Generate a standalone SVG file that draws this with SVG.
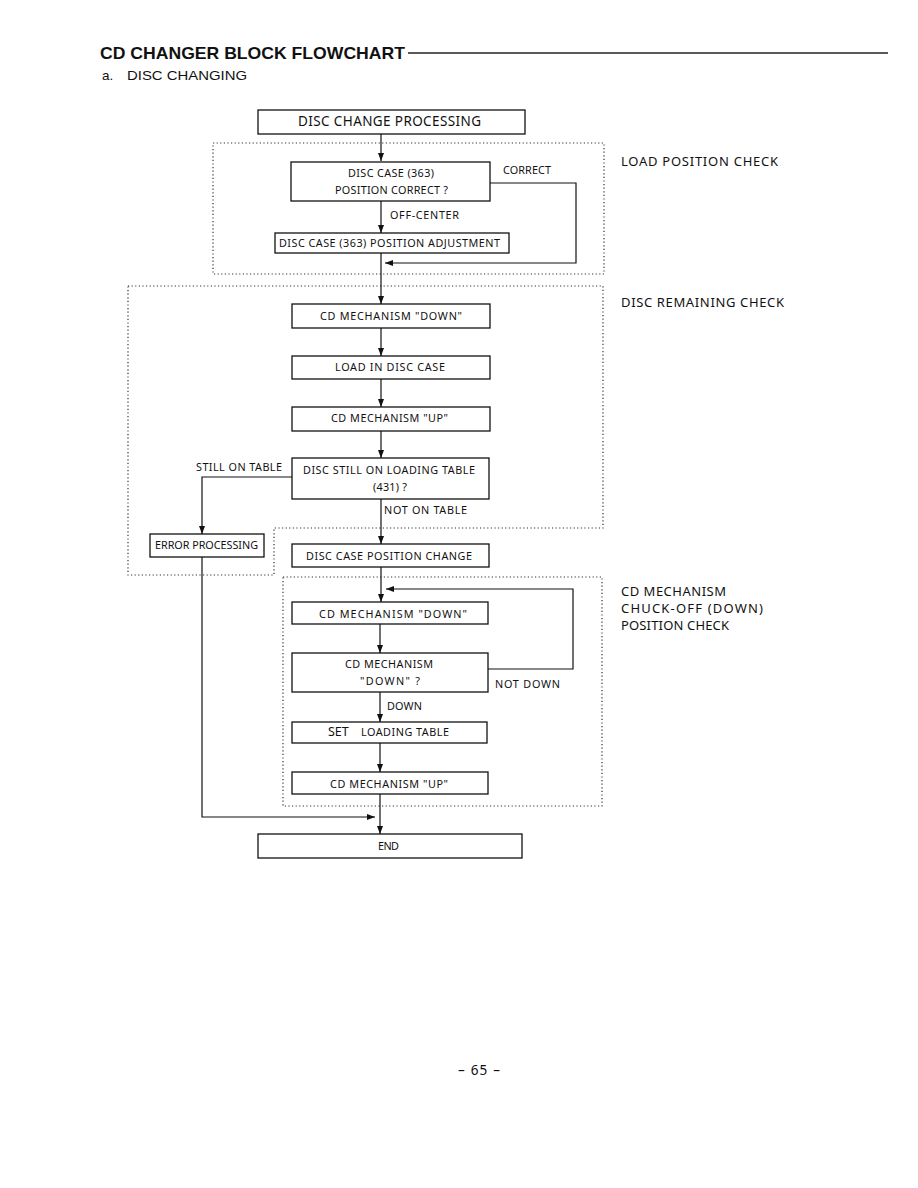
<svg xmlns="http://www.w3.org/2000/svg" width="918" height="1188" viewBox="0 0 918 1188">
<defs>
<style>
.box{fill:#fff;stroke:#111;stroke-width:1.3}
.zone{fill:none;stroke:#333;stroke-width:1.2;stroke-dasharray:1.2 2.4}
.con{fill:none;stroke:#111;stroke-width:1.2}
.t{font-family:"Noto Sans","Open Sans",sans-serif;font-size:10.8px;fill:#111}
.big{font-family:"Noto Sans","Open Sans",sans-serif;font-size:13.5px;fill:#111}
.side{font-family:"Noto Sans","Open Sans",sans-serif;font-size:13px;fill:#111}
.hdr{font-family:"Liberation Sans",Arial,sans-serif;fill:#111}
</style>
<marker id="ah" markerUnits="userSpaceOnUse" markerWidth="8" markerHeight="6" refX="8" refY="3" orient="auto">
<path d="M0,0 L8,3 L0,6 z" fill="#111"/>
</marker>
</defs>
<rect width="918" height="1188" fill="#fff"/>

<g id="header">
<text class="hdr" x="100" y="59" font-size="17" font-weight="bold" textLength="305" lengthAdjust="spacingAndGlyphs">CD CHANGER BLOCK FLOWCHART</text>
<line x1="408" y1="53" x2="888" y2="53" stroke="#222" stroke-width="1.3"/>
<text class="hdr" x="102" y="80" font-size="13.5">a.</text>
<text class="hdr" x="127" y="80" font-size="13.5" textLength="120" lengthAdjust="spacingAndGlyphs">DISC CHANGING</text>
</g>

<g id="zones">
<path class="zone" d="M213,143 H604 V274 H213 Z"/>
<path class="zone" d="M128,286 H603 V528 H274 V575 H128 Z"/>
<path class="zone" d="M283,577 H602 V806 H283 Z"/>
</g>

<g id="side-labels">
<text class="side" x="621" y="166" textLength="157" lengthAdjust="spacing">LOAD POSITION CHECK</text>
<text class="side" x="621" y="307" textLength="163" lengthAdjust="spacing">DISC REMAINING CHECK</text>
<text class="side" x="621" y="596" textLength="105" lengthAdjust="spacing">CD MECHANISM</text>
<text class="side" x="621" y="613" textLength="142" lengthAdjust="spacing">CHUCK-OFF (DOWN)</text>
<text class="side" x="621" y="630" textLength="108" lengthAdjust="spacing">POSITION CHECK</text>
</g>

<g id="connectors">
<line class="con" x1="381" y1="134" x2="381" y2="161" marker-end="url(#ah)"/>
<line class="con" x1="381" y1="201" x2="381" y2="233" marker-end="url(#ah)"/>
<polyline class="con" points="490,183 576,183 576,263 385,263" marker-end="url(#ah)"/>
<line class="con" x1="381" y1="253" x2="381" y2="304" marker-end="url(#ah)"/>
<line class="con" x1="381" y1="328" x2="381" y2="356" marker-end="url(#ah)"/>
<line class="con" x1="381" y1="379" x2="381" y2="407" marker-end="url(#ah)"/>
<line class="con" x1="381" y1="431" x2="381" y2="458" marker-end="url(#ah)"/>
<polyline class="con" points="292,477 202,477 202,534" marker-end="url(#ah)"/>
<line class="con" x1="381" y1="499" x2="381" y2="544" marker-end="url(#ah)"/>
<line class="con" x1="381" y1="567" x2="381" y2="602" marker-end="url(#ah)"/>
<polyline class="con" points="488,669 573,669 573,589 386,589" marker-end="url(#ah)"/>
<line class="con" x1="380" y1="624" x2="380" y2="653" marker-end="url(#ah)"/>
<line class="con" x1="380" y1="692" x2="380" y2="722" marker-end="url(#ah)"/>
<line class="con" x1="380" y1="743" x2="380" y2="772" marker-end="url(#ah)"/>
<line class="con" x1="380" y1="794" x2="380" y2="834" marker-end="url(#ah)"/>
<polyline class="con" points="202,557 202,817 375,817" marker-end="url(#ah)"/>
<text class="t" x="503" y="174" textLength="48" lengthAdjust="spacing">CORRECT</text>
<text class="t" x="390" y="219" textLength="69" lengthAdjust="spacing">OFF-CENTER</text>
<text class="t" x="196" y="471" textLength="86" lengthAdjust="spacing">STILL ON TABLE</text>
<text class="t" x="384" y="514" textLength="83" lengthAdjust="spacing">NOT ON TABLE</text>
<text class="t" x="495" y="688" textLength="65" lengthAdjust="spacing">NOT DOWN</text>
<text class="t" x="387" y="710" textLength="35" lengthAdjust="spacing">DOWN</text>
</g>

<g id="n-start">
<rect class="box" x="258" y="110" width="267" height="24"/>
<text class="big" x="298" y="126" textLength="183" lengthAdjust="spacing">DISC CHANGE PROCESSING</text>
</g>
<g id="n-case-correct">
<rect class="box" x="291" y="162" width="199" height="39"/>
<text class="t" x="348" y="177" textLength="86" lengthAdjust="spacing">DISC CASE (363)</text>
<text class="t" x="335" y="194" textLength="113" lengthAdjust="spacing">POSITION CORRECT ?</text>
</g>
<g id="n-case-adjust">
<rect class="box" x="275" y="233" width="234" height="20"/>
<text class="t" x="279" y="247" textLength="221" lengthAdjust="spacing">DISC CASE (363) POSITION ADJUSTMENT</text>
</g>
<g id="n-mech-down-1">
<rect class="box" x="292" y="304" width="198" height="24"/>
<text class="t" x="320" y="320" textLength="142" lengthAdjust="spacing">CD MECHANISM "DOWN"</text>
</g>
<g id="n-load-in">
<rect class="box" x="292" y="356" width="198" height="23"/>
<text class="t" x="335" y="371" textLength="110" lengthAdjust="spacing">LOAD IN  DISC CASE</text>
</g>
<g id="n-mech-up-1">
<rect class="box" x="292" y="407" width="198" height="24"/>
<text class="t" x="331" y="422" textLength="117" lengthAdjust="spacing">CD MECHANISM "UP"</text>
</g>
<g id="n-still-on-table">
<rect class="box" x="292" y="458" width="197" height="41"/>
<text class="t" x="303" y="474" textLength="172" lengthAdjust="spacing">DISC STILL ON LOADING TABLE</text>
<text class="t" x="373" y="491" textLength="34" lengthAdjust="spacing">(431) ?</text>
</g>
<g id="n-error">
<rect class="box" x="150" y="534" width="114" height="23"/>
<text class="t" x="155" y="549" textLength="103" lengthAdjust="spacing">ERROR PROCESSING</text>
</g>
<g id="n-case-change">
<rect class="box" x="292" y="544" width="197" height="23"/>
<text class="t" x="306" y="560" textLength="166" lengthAdjust="spacing">DISC CASE  POSITION CHANGE</text>
</g>
<g id="n-mech-down-2">
<rect class="box" x="292" y="602" width="196" height="22"/>
<text class="t" x="319" y="618" textLength="148" lengthAdjust="spacing">CD MECHANISM "DOWN"</text>
</g>
<g id="n-mech-down-q">
<rect class="box" x="292" y="653" width="196" height="39"/>
<text class="t" x="345" y="668" textLength="88" lengthAdjust="spacing">CD MECHANISM</text>
<text class="t" x="360" y="685" textLength="60" lengthAdjust="spacing">"DOWN"  ?</text>
</g>
<g id="n-set-table">
<rect class="box" x="292" y="722" width="195" height="21"/>
<text class="t" x="328" y="736"><tspan font-size="12.5">SET</tspan><tspan x="361" textLength="88" lengthAdjust="spacing">LOADING TABLE</tspan></text>
</g>
<g id="n-mech-up-2">
<rect class="box" x="292" y="772" width="196" height="22"/>
<text class="t" x="330" y="788" textLength="118" lengthAdjust="spacing">CD MECHANISM "UP"</text>
</g>
<g id="n-end">
<rect class="box" x="258" y="834" width="264" height="24"/>
<text class="t" x="378" y="850" textLength="21" lengthAdjust="spacing">END</text>
</g>

<g id="footer">
<text class="big" x="458" y="1075" textLength="42" lengthAdjust="spacing">– 65 –</text>
</g>
</svg>
